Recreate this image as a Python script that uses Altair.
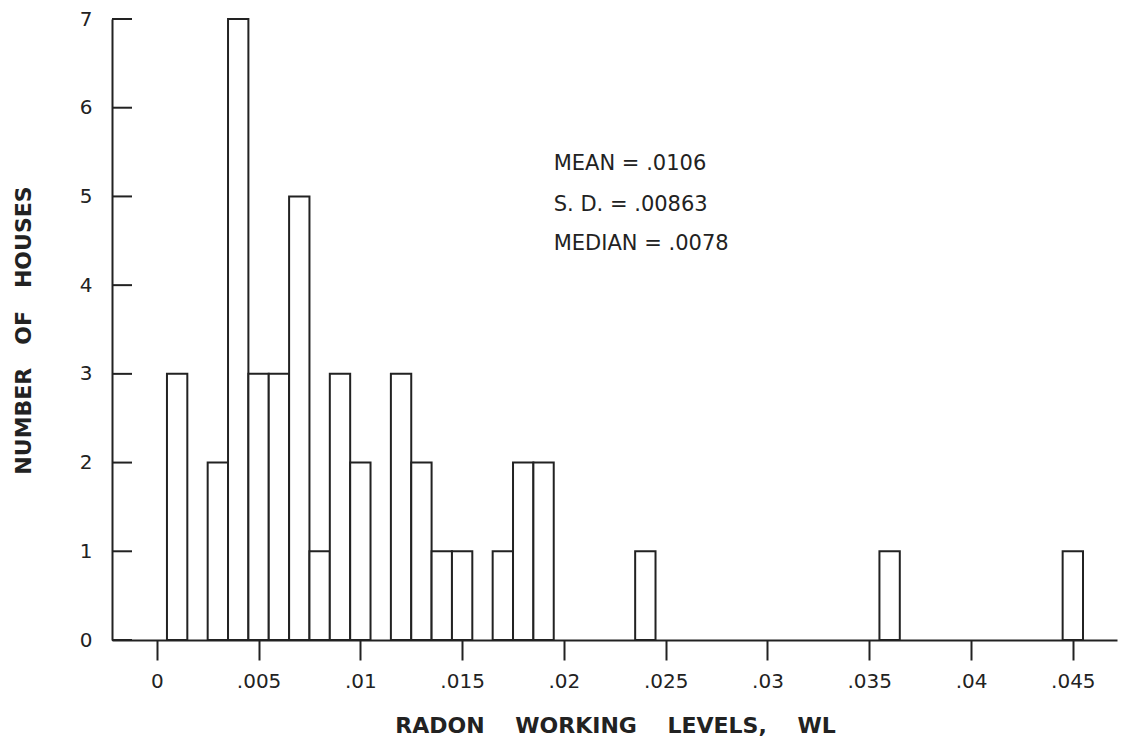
import altair as alt
import pandas as pd

# ---- data ----
bin_start = [0.0005, 0.0025, 0.0035, 0.0045, 0.0055, 0.0065, 0.0075, 0.0085, 0.0095,
             0.0115, 0.0125, 0.0135, 0.0145, 0.0165, 0.0175, 0.0185, 0.0235, 0.0355, 0.0445]
counts = [3, 2, 7, 3, 3, 5, 1, 3, 2, 3, 2, 1, 1, 1, 2, 2, 1, 1, 1]
BIN_WIDTH = 0.001

x_tick_values = [0, 0.005, 0.01, 0.015, 0.02, 0.025, 0.03, 0.035, 0.04, 0.045]
x_tick_labels = ["0", ".005", ".01", ".015", ".02", ".025", ".03", ".035", ".04", ".045"]
y_tick_values = [0, 1, 2, 3, 4, 5, 6, 7]

stats_text = ["MEAN = .0106", "S. D. = .00863", "MEDIAN = .0078"]
stats_x = [0.0195, 0.0195, 0.0195]
stats_y = [5.37, 4.90, 4.46]

NB = "\u00a0"
x_title = (NB * 4).join(["RADON", "WORKING", "LEVELS,", "WL"])
y_title = (NB * 3).join(["NUMBER", "OF", "HOUSES"])

# ---- tables ----
bars_df = pd.DataFrame({
    "start": bin_start,
    "end": [s + BIN_WIDTH for s in bin_start],
    "count": counts,
    "zero": [0] * len(counts),
})
yticks_df = pd.DataFrame({"count": y_tick_values})
stats_df = pd.DataFrame({"label": stats_text, "start": stats_x, "count": stats_y})

FONT = "DejaVu Sans"
INK = "#222222"

x_scale = alt.Scale(domain=[-0.0022, 0.04717], nice=False, zero=False)
y_scale = alt.Scale(domain=[0, 7], nice=False, zero=True)

label_expr = "datum.value == 0 ? '0' : replace(format(datum.value, '.3~f'), '0.', '.')"

x_axis = alt.Axis(
    values=x_tick_values, labelExpr=label_expr, grid=False,
    tickSize=20, tickWidth=2, tickColor=INK,
    domainWidth=2, domainColor=INK,
    labelFont=FONT, labelFontSize=20, labelColor=INK, labelPadding=11,
    labelAngle=0,
    title=x_title, titleFont=FONT, titleFontSize=22, titleFontWeight="bold",
    titleColor=INK, titleX=503, titleY=85, titleAlign="center",
    titleBaseline="middle")

y_axis = alt.Axis(
    values=y_tick_values, grid=False, ticks=False, tickSize=0,
    domainWidth=2, domainColor=INK,
    labelFont=FONT, labelFontSize=20, labelColor=INK, labelPadding=20,
    title=y_title, titleFont=FONT, titleFontSize=22, titleFontWeight="bold",
    titleColor=INK, titleAngle=270, titleX=-89, titleY=311,
    titleAlign="center", titleBaseline="middle")

bars = alt.Chart(bars_df).mark_rect(fill="white", stroke=INK, strokeWidth=2).encode(
    x=alt.X("start:Q", scale=x_scale, axis=x_axis),
    x2="end:Q",
    y=alt.Y("count:Q", scale=y_scale, axis=y_axis),
    y2="zero:Q",
)

yticks = alt.Chart(yticks_df).mark_rule(color=INK, strokeWidth=2).encode(
    y=alt.Y("count:Q", scale=y_scale, axis=y_axis),
    x=alt.value(0),
    x2=alt.value(20),
)

stats = alt.Chart(stats_df).mark_text(
    align="left", baseline="middle", font=FONT, fontSize=21, color=INK
).encode(
    x=alt.X("start:Q", scale=x_scale, axis=x_axis),
    y=alt.Y("count:Q", scale=y_scale, axis=y_axis),
    text="label:N",
)

chart = alt.layer(bars, yticks, stats).properties(
    width=1005,
    height=621,
    padding={"left": 112, "top": 19, "right": 6, "bottom": 106},
    autosize=alt.AutoSizeParams(type="none"),
    background="white",
).configure_view(stroke=None)

chart.save("out.html", embed_options={"renderer": "svg", "actions": False})
